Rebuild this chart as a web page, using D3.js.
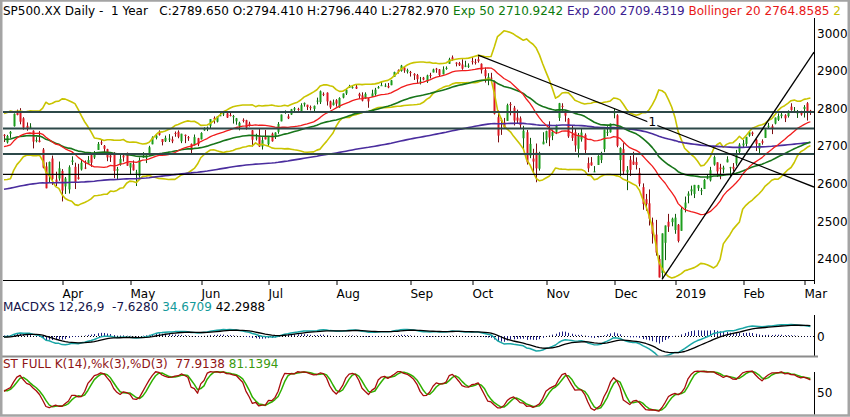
<!DOCTYPE html>
<html><head><meta charset="utf-8">
<script src="https://cdnjs.cloudflare.com/ajax/libs/d3/7.8.5/d3.min.js"></script>
<style>
html,body{margin:0;padding:0;background:#fff;overflow:hidden}
svg{display:block}
text{font-family:"DejaVu Sans",sans-serif;font-size:12px}
</style></head>
<body><svg id="c" width="850" height="417"></svg>
<script>
// ---------- DATA : [open, high, low, close] per trading day ----------
const warmupFeb18 = [ // Feb 6 - Mar 5 2018, only used to start the indicators (not drawn)
[2614,2701,2593,2695],[2690,2727,2681,2682],[2685,2685,2580,2581],[2601,2638,2533,2620],
[2637,2672,2622,2656],[2647,2668,2645,2662],[2651,2702,2648,2698],[2713,2731,2689,2731],
[2727,2754,2725,2732],[2725,2738,2706,2716],[2720,2747,2701,2701],[2711,2731,2697,2703],
[2716,2747,2710,2747],[2757,2780,2753,2779],[2780,2789,2744,2744],[2754,2761,2713,2714],
[2715,2730,2659,2677],[2658,2696,2647,2691],[2681,2728,2675,2721]];
const mar18 = [
[2730,2732,2711,2728],[2710,2730,2707,2727],[2733,2740,2722,2738],[2753,2787,2752,2786],
[2790,2797,2782,2783],[2792,2801,2758,2765],[2774,2777,2744,2749],[2754,2763,2741,2747],
[2750,2761,2747,2752],[2741,2742,2694,2712],[2715,2724,2710,2716],[2715,2740,2710,2711],
[2691,2695,2641,2643],[2646,2657,2588,2588],[2620,2659,2603,2658],[2667,2675,2597,2613],
[2611,2632,2594,2605],[2614,2659,2608,2641]];
const apr18 = [
[2634,2639,2553,2582],[2593,2618,2573,2614],[2585,2649,2574,2644],[2658,2673,2650,2662],
[2645,2656,2586,2604],[2617,2653,2611,2613],[2638,2665,2635,2656],[2643,2662,2639,2642],
[2653,2674,2653,2663],[2676,2680,2645,2656],[2670,2687,2666,2677],[2690,2711,2690,2706],
[2710,2717,2703,2708],[2701,2703,2681,2693],[2692,2693,2660,2670],[2675,2683,2658,2670],
[2680,2684,2615,2634],[2635,2645,2612,2639],[2651,2677,2648,2666],[2675,2677,2659,2670],
[2682,2683,2648,2648]];
const may18 = [
[2643,2655,2625,2655],[2652,2662,2635,2636],[2629,2637,2594,2630],[2621,2670,2616,2663],
[2670,2684,2669,2672],[2670,2676,2655,2672],[2678,2701,2675,2697],[2705,2726,2705,2723],
[2722,2732,2718,2728],[2738,2742,2728,2730],[2719,2719,2702,2711],[2713,2728,2711,2722],
[2719,2732,2711,2720],[2718,2726,2708,2713],[2735,2739,2725,2733],[2738,2742,2721,2725],
[2713,2733,2708,2733],[2730,2731,2708,2727],[2724,2727,2714,2721],[2706,2707,2677,2690],
[2702,2731,2702,2724],[2721,2722,2700,2705]];
const jun18 = [
[2718,2737,2718,2735],[2742,2750,2741,2747],[2748,2752,2740,2749],[2754,2772,2748,2772],
[2775,2779,2760,2771],[2765,2779,2763,2779],[2781,2790,2780,2782],[2785,2790,2780,2787],
[2787,2791,2775,2776],[2783,2790,2779,2782],[2777,2783,2760,2780],[2766,2775,2757,2774],
[2752,2765,2742,2762],[2770,2774,2763,2767],[2769,2770,2744,2749],[2760,2765,2752,2754],
[2742,2743,2699,2717],[2723,2733,2715,2723],[2729,2747,2698,2699],[2699,2724,2691,2716],
[2727,2743,2718,2718]];
const jul18 = [
[2705,2727,2698,2726],[2733,2736,2712,2713],[2724,2737,2719,2736],[2738,2764,2733,2759],
[2766,2784,2766,2784],[2789,2795,2786,2793],[2779,2785,2772,2774],[2784,2799,2783,2798],
[2797,2804,2792,2801],[2799,2802,2794,2798],[2789,2814,2789,2809],[2811,2816,2805,2815],
[2810,2810,2796,2804],[2804,2808,2795,2801],[2799,2808,2792,2807],[2820,2829,2811,2821],
[2817,2848,2812,2846],[2839,2843,2833,2837],[2842,2843,2808,2819],[2819,2821,2799,2803],
[2809,2824,2808,2816]];
const aug18 = [
[2822,2825,2805,2813],[2803,2830,2802,2828],[2829,2840,2827,2840],[2840,2853,2836,2850],
[2855,2863,2855,2858],[2856,2862,2853,2857],[2858,2863,2852,2853],[2839,2842,2826,2833],
[2835,2843,2819,2821],[2827,2843,2826,2839],[2827,2828,2802,2819],[2831,2850,2831,2840],
[2838,2855,2834,2850],[2854,2860,2853,2857],[2861,2873,2861,2862],[2860,2867,2857,2861],
[2860,2868,2854,2856],[2862,2876,2862,2875],[2884,2898,2884,2897],[2902,2904,2893,2898],
[2900,2916,2898,2914],[2909,2912,2895,2901],[2898,2906,2893,2902]];
const sep18 = [
[2897,2900,2885,2896],[2892,2894,2876,2888],[2889,2892,2868,2878],[2869,2884,2864,2872],
[2882,2884,2875,2877],[2872,2890,2868,2888],[2889,2895,2880,2888],[2896,2906,2896,2904],
[2906,2908,2895,2905],[2904,2905,2886,2889],[2891,2912,2891,2904],[2906,2912,2903,2908],
[2919,2935,2919,2931],[2936,2941,2927,2930],[2922,2923,2912,2919],[2921,2924,2913,2915],
[2917,2931,2903,2906],[2911,2927,2910,2914],[2911,2920,2908,2914]];
const oct18 = [
[2926,2937,2917,2924],[2924,2932,2917,2923],[2931,2940,2922,2926],[2919,2920,2893,2902],
[2902,2909,2869,2886],[2878,2894,2862,2884],[2882,2895,2874,2881],[2873,2874,2784,2786],
[2777,2795,2710,2728],[2770,2775,2730,2767],[2763,2775,2749,2750],[2767,2813,2767,2809],
[2812,2817,2782,2809],[2802,2807,2755,2768],[2776,2797,2761,2768],[2774,2779,2746,2756],
[2721,2754,2691,2741],[2737,2743,2651,2657],[2675,2722,2668,2706],[2667,2693,2628,2659],
[2683,2707,2604,2641],[2640,2685,2635,2682],[2705,2737,2705,2712]];
const nov18 = [
[2717,2741,2708,2740],[2745,2766,2700,2723],[2727,2744,2716,2738],[2738,2757,2732,2756],
[2775,2815,2767,2814],[2807,2814,2794,2806],[2794,2796,2765,2781],[2773,2775,2722,2726],
[2731,2755,2714,2722],[2737,2746,2685,2702],[2693,2735,2670,2730],[2718,2747,2712,2736],
[2730,2734,2681,2690],[2655,2670,2631,2641],[2657,2671,2648,2649],[2633,2647,2631,2633],
[2650,2676,2650,2674],[2663,2685,2655,2682],[2692,2744,2684,2744],[2736,2753,2727,2738],
[2737,2760,2736,2760]];
const dec18 = [
[2790,2800,2774,2790],[2782,2785,2697,2701],[2663,2697,2621,2695],[2692,2708,2623,2633],
[2630,2647,2583,2637],[2664,2674,2621,2637],[2659,2685,2650,2651],[2658,2670,2638,2650],
[2629,2642,2593,2600],[2591,2601,2531,2546],[2559,2573,2528,2546],[2548,2585,2489,2507],
[2497,2510,2441,2467],[2465,2504,2409,2417],[2400,2410,2351,2351],[2363,2468,2347,2468],
[2443,2489,2397,2489],[2499,2520,2472,2486],[2498,2510,2487,2507]];
const jan19 = [
[2477,2520,2467,2510],[2491,2493,2444,2448],[2475,2538,2475,2532],[2536,2566,2524,2550],
[2568,2580,2548,2574],[2580,2595,2569,2585],[2573,2597,2562,2597],[2588,2597,2581,2596],
[2581,2589,2570,2583],[2586,2613,2586,2610],[2614,2625,2612,2616],[2609,2645,2606,2636],
[2651,2675,2648,2671],[2657,2657,2618,2633],[2643,2653,2612,2639],[2638,2648,2628,2643],
[2657,2673,2657,2665],[2644,2645,2619,2644],[2645,2655,2633,2640],[2654,2690,2648,2681],
[2685,2708,2677,2704]];
const feb19 = [
[2702,2717,2696,2707],[2706,2724,2699,2725],[2728,2738,2725,2737],[2736,2739,2727,2732],
[2717,2720,2687,2706],[2693,2708,2681,2708],[2713,2718,2704,2709],[2722,2745,2722,2744],
[2751,2762,2748,2754],[2753,2758,2732,2746],[2760,2776,2758,2776],[2770,2787,2767,2780],
[2780,2789,2774,2784],[2782,2785,2764,2774],[2780,2795,2776,2793],[2805,2814,2794,2796],
[2793,2804,2789,2794],[2787,2796,2775,2793],[2788,2794,2781,2784]];
const mar19 = [
[2799,2809,2776,2804],[2814,2817,2768,2793],[2794.41,2796.44,2782.97,2789.65]];

const holidays = ["2018-02-19","2018-03-30","2018-05-28","2018-07-04","2018-09-03","2018-11-22",
  "2018-12-05","2018-12-25","2019-01-01","2019-01-21","2019-02-18"];
const monthTickLabels = ["Apr","May","Jun","Jul","Aug","Sep","Oct","Nov","Dec","2019","Feb","Mar"];
const priceTicks = [2400,2500,2600,2700,2800,2900,3000];
const levelLines = [2791,2747,2679,2625];
const downTrend = [["2018-10-03",2942],["2019-03-05",2595]];
const upTrend = [["2018-12-26",2346],["2019-03-05",2936]];
const trendLabel = {text:"1", date:"2018-12-20"};
// starting values of the averages on the first warm-up day (estimated from the chart)
const ema50Start = 2735, ema200Start = 2560, ema12Start = 2765, ema26Start = 2755;
const headerParts = [
  ["SP500.XX Daily -  1 Year   C:2789.650 O:2794.410 H:2796.440 L:2782.970 ","#000"],
  ["Exp 50 2710.9242 ","#0d7a0d"],["Exp 200 2709.4319 ","#3b2090"],
  ["Bollinger 20 2764.8585 ","#e81818"],["2","#c8c000"]];
const macdParts = [["MACDXS 12,26,9  -7.6280 ","#14144a"],["34.6709 ","#129a9a"],["42.2988","#000"]];
const stochParts = [["ST FULL K(14),%k(3),%D(3)  77.9138 ","#8e1414"],["81.1394","#3a9a10"]];

// ---------- BUILD ----------
const fmt = d3.timeFormat("%Y-%m-%d");
const days = d3.timeDay.range(new Date(2018,1,6), new Date(2019,2,6))
  .filter(d => d.getDay()!==0 && d.getDay()!==6 && !holidays.includes(fmt(d)));
const monthArrays = [warmupFeb18,mar18,apr18,may18,jun18,jul18,aug18,sep18,oct18,nov18,dec18,jan19,feb19,mar19];
const rows = monthArrays.flat();
if (rows.length !== days.length) throw new Error("rows "+rows.length+" days "+days.length);
const N0 = warmupFeb18.length;
const bars = rows.map((r,i)=>({i, date:days[i], o:r[0], h:r[1], l:r[2], c:r[3]}));
const closes = bars.map(b=>b.c);

function ema(vals, n, start){ let e = start; const k = 2/(n+1); return vals.map(v => (e = e + (v-e)*k)); }
const e50 = ema(closes,50,ema50Start), e200 = ema(closes,200,ema200Start);
const e12 = ema(closes,12,ema12Start), e26 = ema(closes,26,ema26Start);
const macd = e12.map((v,i)=>v-e26[i]);
const sig = ema(macd,9,macd[0]);
const hist = macd.map((v,i)=>v-sig[i]);
const bb = closes.map((c,i)=>{
  if (i<19) return null;
  const w = closes.slice(i-19,i+1), m = d3.mean(w);
  const sd = Math.sqrt(d3.mean(w, v=>(v-m)*(v-m)));
  return {m, u:m+2*sd, l:m-2*sd};
});
const rawK = bars.map((b,i)=>{
  if (i<13) return null;
  const w = bars.slice(i-13,i+1), hh = d3.max(w,d=>d.h), ll = d3.min(w,d=>d.l);
  return hh===ll?50:(b.c-ll)/(hh-ll)*100;
});
const slowK = rawK.map((v,i)=> i<15?null:(rawK[i]+rawK[i-1]+rawK[i-2])/3);
const slowD = slowK.map((v,i)=> i<17?null:(slowK[i]+slowK[i-1]+slowK[i-2])/3);

const drawn = bars.slice(N0);
const idxOf = s => bars.findIndex(b=>fmt(b.date)===s);

// ---------- SCALES ----------
const x = d3.scaleLinear().domain([N0, N0+250]).range([4, 810.4]);
const y = d3.scaleLinear().domain([2400,3000]).range([259,33.3]);
const ym = d3.scaleLinear().domain([0,50]).range([336,322.5]);
const ys = d3.scaleLinear().domain([0,100]).range([412.5,370.5]);
const AX = 814;

const svg = d3.select("#c");
svg.append("rect").attr("width",850).attr("height",417).attr("fill","#fff");
const defs = svg.append("defs");
function clip(id,x0,y0,w,h){ defs.append("clipPath").attr("id",id).append("rect").attr("x",x0).attr("y",y0).attr("width",w).attr("height",h); }
clip("cp",3,18,AX-3,262); clip("cm",3,314,AX-3,43); clip("cs",3,358,AX-3,56);

// ---------- PRICE PANEL ----------
const gp = svg.append("g").attr("clip-path","url(#cp)");
const up = "#1c9e1c", dn = "#de1620";
gp.selectAll("line.wick").data(drawn).join("line").attr("class","wick")
  .attr("x1",d=>Math.round(x(d.i))+0.5).attr("x2",d=>Math.round(x(d.i))+0.5)
  .attr("y1",d=>y(d.h)).attr("y2",d=>y(d.l))
  .attr("stroke",d=>d.c>=d.o?"#0d5a0d":"#7a0c10").attr("stroke-width",1);
gp.selectAll("rect.body").data(drawn).join("rect").attr("class","body")
  .attr("x",d=>Math.round(x(d.i))-0.5).attr("width",2)
  .attr("y",d=>y(Math.max(d.o,d.c))).attr("height",d=>Math.max(1,Math.abs(y(d.o)-y(d.c))))
  .attr("fill",d=>d.c>=d.o?up:dn);

const lineOf = (arr, sc) => d3.line().x(d=>x(d.i)).y(d=>sc(arr[d.i]));
const addLine = (g, arr, sc, color, w) => g.append("path").datum(drawn)
  .attr("d", lineOf(arr, sc)).attr("fill","none").attr("stroke",color).attr("stroke-width",w).attr("stroke-linejoin","round");
addLine(gp, bb.map(d=>d&&d.u), y, "#c9c400", 1.6);
addLine(gp, bb.map(d=>d&&d.l), y, "#c9c400", 1.6);
addLine(gp, e200, y, "#4a2d9e", 1.6);
addLine(gp, e50, y, "#17751a", 1.6);
addLine(gp, bb.map(d=>d&&d.m), y, "#f01c1c", 1.3);

levelLines.forEach((v,k)=>{
  gp.append("line").attr("x1",3).attr("x2",AX).attr("y1",y(v)).attr("y2",y(v))
    .attr("stroke",k<3?"#2c4848":"#000").attr("stroke-width",k<3?2:1.3);
});
function trend(t){
  const i1 = idxOf(t[0][0]), i2 = idxOf(t[1][0]);
  const v1 = t[0][1], v2 = t[1][1];
  const iR = x.invert(AX), vR = v1 + (v2-v1)*(iR-i1)/(i2-i1);
  gp.append("line").attr("x1",x(i1)).attr("y1",y(v1)).attr("x2",AX).attr("y2",y(vR))
    .attr("stroke","#000").attr("stroke-width",1.3);
  return i => v1 + (v2-v1)*(i-i1)/(i2-i1);
}
const dtf = trend(downTrend); trend(upTrend);
{ const li = idxOf(trendLabel.date), lx = x(li), ly = y(dtf(li));
  gp.append("rect").attr("x",lx-5).attr("y",ly-7).attr("width",10).attr("height",10).attr("fill","#fff");
  gp.append("text").attr("x",lx).attr("y",ly+2.5).attr("text-anchor","middle").attr("fill","#000").text(trendLabel.text); }

// axes of price panel
const monthIdx = drawn.filter((d,k)=> k>0 && d.date.getMonth()!==drawn[k-1].date.getMonth()).map(d=>d.i);
const xa = svg.append("g").attr("transform","translate(0,280)")
  .call(d3.axisBottom(x).tickValues(monthIdx).tickFormat((d,k)=>monthTickLabels[k]).tickSize(5).tickSizeOuter(0).tickPadding(4));
xa.select(".domain").remove();
xa.selectAll("line").attr("stroke","#000").attr("transform",d=>`translate(${Math.round(x(d))-x(d)+0.5},0)`);
xa.selectAll("text").attr("text-anchor","start").attr("x",d=>Math.round(x(d))-x(d)).attr("font-size",12).attr("font-family","DejaVu Sans").attr("fill","#000");
svg.append("line").attr("x1",3).attr("x2",AX).attr("y1",280.5).attr("y2",280.5).attr("stroke","#000");
svg.append("line").attr("x1",AX+0.5).attr("x2",AX+0.5).attr("y1",18).attr("y2",284).attr("stroke","#000");
const ya = svg.append("g").attr("transform",`translate(${AX},0)`)
  .call(d3.axisRight(y).tickValues(priceTicks).tickFormat(d3.format("d")).tickSize(0).tickPadding(3));
ya.select(".domain").remove();
ya.selectAll("text").attr("font-size",12).attr("font-family","DejaVu Sans").attr("fill","#000");

// ---------- MACD PANEL ----------
const gm = svg.append("g").attr("clip-path","url(#cm)");
gm.append("line").attr("x1",3).attr("x2",AX).attr("y1",ym(0)+0.5).attr("y2",ym(0)+0.5)
  .attr("stroke","#000").attr("stroke-dasharray","1,2");
gm.selectAll("line.h").data(drawn).join("line").attr("class","h")
  .attr("x1",d=>Math.round(x(d.i))+0.5).attr("x2",d=>Math.round(x(d.i))+0.5)
  .attr("y1",ym(0)).attr("y2",d=>ym(hist[d.i])).attr("stroke","#1c1c80").attr("stroke-width",1);
addLine(gm, macd, ym, "#1aa6a6", 1.5);
addLine(gm, sig, ym, "#000", 1.3);
svg.append("line").attr("x1",AX+0.5).attr("x2",AX+0.5).attr("y1",315).attr("y2",357).attr("stroke","#000");
svg.append("text").attr("x",817).attr("y",ym(0)+4.5).attr("fill","#000").text("0");

// ---------- STOCHASTIC PANEL ----------
const gs = svg.append("g").attr("clip-path","url(#cs)");
addLine(gs, slowD, ys, "#2eb000", 1.5);
addLine(gs, slowK, ys, "#a80c0c", 1.3);
svg.append("line").attr("x1",AX+0.5).attr("x2",AX+0.5).attr("y1",372).attr("y2",415).attr("stroke","#000");
svg.append("text").attr("x",817).attr("y",ys(50)+5.5).attr("fill","#000").text("50");

// separators / frame
svg.append("line").attr("x1",0).attr("x2",AX+4).attr("y1",356.5).attr("y2",356.5).attr("stroke","#8c8c8c").attr("stroke-width",2);
svg.append("rect").attr("x",1.25).attr("y",0.5).attr("width",847.5).attr("height",415).attr("fill","none").attr("stroke","#a4a4a4").attr("stroke-width",2.5);

// ---------- LEGEND TEXTS ----------
function legend(parts, x0, y0){
  const t = svg.append("text").attr("x",x0).attr("y",y0).attr("xml:space","preserve").style("white-space","pre");
  parts.forEach(p => t.append("tspan").attr("fill",p[1]).text(p[0]));
}
legend(headerParts, 3, 15);
legend(macdParts, 3, 311);
legend(stochParts, 3, 368);
</script></body></html>
